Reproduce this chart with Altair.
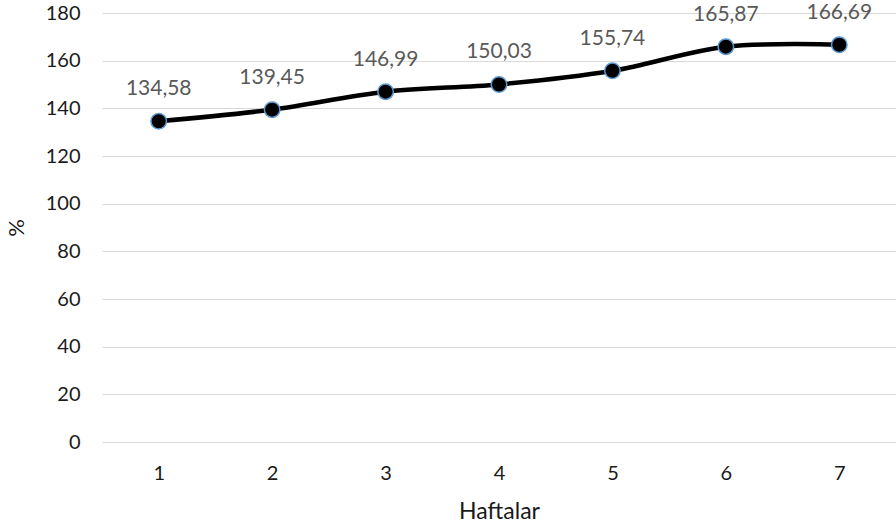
import altair as alt
import pandas as pd

# Weekly percentages
weeks = [1, 2, 3, 4, 5, 6, 7]
values = [134.58, 139.45, 146.99, 150.03, 155.74, 165.87, 166.69]
labels = ["134,58", "139,45", "146,99", "150,03", "155,74", "165,87", "166,69"]

df = pd.DataFrame({"hafta": weeks, "deger": values, "etiket": labels})

FONT = "Lato"

x_enc = alt.X(
    "hafta:O",
    title="Haftalar",
    scale=alt.Scale(type="point", padding=0.5),
    axis=alt.Axis(
        labelAngle=0,
        ticks=False,
        domain=False,
        grid=False,
        labelPadding=21,
        titlePadding=17,
        titleFontSize=23,
    ),
)
y_enc = alt.Y(
    "deger:Q",
    title="%",
    scale=alt.Scale(domain=[0, 180], nice=False),
    axis=alt.Axis(
        values=list(range(0, 181, 20)),
        ticks=False,
        domain=False,
        labelPadding=22,
        titlePadding=17,
        titleFontSize=22,
        gridColor="#d9d9d9",
        gridWidth=1,
    ),
)

base = alt.Chart(df).encode(x=x_enc, y=y_enc)

line = base.mark_line(
    color="#000000", strokeWidth=4.5, interpolate="catmull-rom"
)
points = base.mark_point(
    filled=True, fill="#000000", stroke="#5B9BD5", strokeWidth=1.5,
    size=240, opacity=1,
)
text = base.mark_text(
    dy=-32, font=FONT, fontSize=21, color="#595959"
).encode(text="etiket:N")

chart = (
    alt.layer(line, points, text)
    .properties(
        width=794,
        height=429,
        autosize=alt.AutoSizeParams(type="none"),
        padding={"left": 102, "top": 13, "right": 0, "bottom": 88},
    )
    .configure_view(stroke=None)
    .configure_axis(
        labelFont=FONT,
        titleFont=FONT,
        labelFontSize=20,
        labelColor="#1a1a1a",
        titleColor="#1a1a1a",
        titleFontWeight="normal",
    )
)

chart.save("out.html", embed_options={"renderer": "svg", "actions": False})
